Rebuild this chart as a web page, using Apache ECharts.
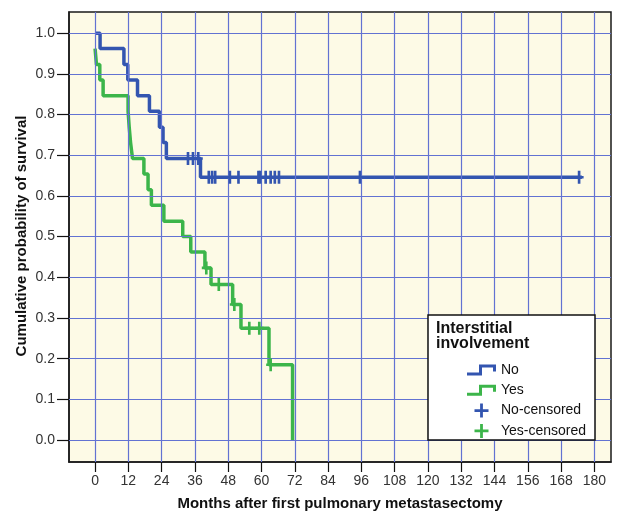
<!DOCTYPE html>
<html>
<head>
<meta charset="utf-8">
<script src="https://cdn.jsdelivr.net/npm/echarts@6/dist/echarts.min.js"></script>
<style>
html,body{margin:0;padding:0;background:#fff;}
#chart{width:622px;height:513px;}
</style>
</head>
<body>
<div id="chart"></div>
<script>
// Tick values
const xTicks = [0, 12, 24, 36, 48, 60, 72, 84, 96, 108, 120, 132, 144, 156, 168, 180];
const yTicks = [0, 0.1, 0.2, 0.3, 0.4, 0.5, 0.6, 0.7, 0.8, 0.9, 1.0];

// Group "No": step curve (time of step, survival after step)
const noTimes = [0, 1.8, 10.4, 11.8, 15.3, 19.6, 23.2, 24.5, 25.7, 38.0, 175.5];
const noSurv  = [1.0, 0.962, 0.923, 0.885, 0.846, 0.808, 0.769, 0.731, 0.692, 0.646, 0.646];
// Group "No": censored observations
const noCensT = [33.5, 35.3, 37.2, 41.0, 42.2, 43.3, 48.6, 51.7, 58.9, 59.5, 61.5, 63.3, 64.8, 66.3, 95.5, 174.5];
const noCensS = [0.692, 0.692, 0.692, 0.646, 0.646, 0.646, 0.646, 0.646, 0.646, 0.646, 0.646, 0.646, 0.646, 0.646, 0.646, 0.646];

// Group "Yes": step curve
const yesTimes = [0, 0.5, 1.7, 2.9, 11.9, 12.3, 12.8, 13.5, 17.6, 19.1, 20.3, 24.8, 31.6, 34.5, 39.6, 41.8, 49.6, 52.6, 62.7, 71.2];
const yesSurv  = [0.962, 0.923, 0.885, 0.846, 0.808, 0.769, 0.731, 0.692, 0.654, 0.615, 0.577, 0.538, 0.500, 0.462, 0.423, 0.382, 0.333, 0.275, 0.185, 0.0];
// Group "Yes": censored observations
const yesCensT = [40.1, 44.6, 50.2, 55.6, 59.2, 63.3];
const yesCensS = [0.423, 0.382, 0.333, 0.275, 0.275, 0.185];

const BLUE = '#3355b0';
const GREEN = '#3cb54a';
const GRIDC = '#6272d2';
const FONT = 'Liberation Sans, Arial, sans-serif';
const plusIcon = 'path://M4,0H6V4H10V6H6V10H4V6H0V4H4Z';
const tickIcon = 'path://M3,0H5.5V4H8.5V6H5.5V10H3V6H0V4H3Z';
const stepIcon = 'path://M0,8H12V0H29V7H26V3H15V11H0Z';

const zip = (a, b) => a.map((v, i) => [v, b[i]]);

const chart = echarts.init(document.getElementById('chart'), null, {renderer: 'canvas'});
chart.setOption({
  animation: false,
  backgroundColor: '#ffffff',
  grid: {
    left: 69, right: 11, top: 12, bottom: 51,
    outerBoundsMode: 'none', containLabel: false,
    show: true, backgroundColor: '#fdfae6',
    borderColor: '#1a1a1a', borderWidth: 1.5
  },
  xAxis: {
    type: 'value', min: -9.4, max: 186,
    axisLine: {show: true, onZero: false, lineStyle: {color: '#1a1a1a', width: 1.5}},
    splitLine: {show: false},
    axisTick: {show: true, inside: false, customValues: xTicks, length: 10, lineStyle: {color: '#111', width: 1.2}},
    axisLabel: {customValues: xTicks, fontSize: 14, color: '#333', margin: 12, fontFamily: FONT},
    name: 'Months after first pulmonary metastasectomy',
    nameLocation: 'middle', nameGap: 34,
    nameTextStyle: {fontSize: 15, fontWeight: 'bold', color: '#111', fontFamily: FONT}
  },
  yAxis: {
    type: 'value', min: -0.054, max: 1.052,
    axisLine: {show: true, onZero: false, lineStyle: {color: '#1a1a1a', width: 1.5}},
    splitLine: {show: false},
    axisTick: {show: true, inside: false, customValues: yTicks, length: 12, lineStyle: {color: '#111', width: 1.2}},
    axisLabel: {customValues: yTicks, fontSize: 14, color: '#333', margin: 14, fontFamily: FONT,
      formatter: v => Number(v).toFixed(1)}
  },
  legend: {
    orient: 'vertical', left: 462, top: 358,
    itemWidth: 29, itemHeight: 14, itemGap: 6.3,
    selectedMode: false, z: 200,
    itemStyle: {borderWidth: 0, opacity: 1},
    textStyle: {fontSize: 14, color: '#111', fontFamily: FONT},
    data: [
      {name: 'No', icon: stepIcon},
      {name: 'Yes', icon: stepIcon},
      {name: 'No-censored', icon: plusIcon},
      {name: 'Yes-censored', icon: plusIcon}
    ]
  },
  graphic: [
    {type: 'text', z: 50, x: 22, y: 236, rotation: Math.PI / 2,
     style: {text: 'Cumulative probability of survival', font: 'bold 15px ' + FONT, fill: '#111',
             align: 'center', verticalAlign: 'middle'}},
    {type: 'rect', z: 100, shape: {x: 428, y: 315, width: 167, height: 125},
     style: {fill: '#ffffff', stroke: '#111', lineWidth: 1.5}},
    {type: 'text', z: 101, left: 436, top: 321,
     style: {text: 'Interstitial\ninvolvement', font: 'bold 16px ' + FONT, fill: '#111', lineHeight: 15}}
  ],
  series: [
    {
      name: 'grid', type: 'line', data: [], silent: true, z: 1,
      markLine: {
        silent: true, symbol: ['none', 'none'], label: {show: false},
        lineStyle: {color: GRIDC, width: 1.2, type: 'solid', opacity: 1},
        emphasis: {disabled: true},
        data: [...xTicks.map(v => ({xAxis: v})), ...yTicks.map(v => ({yAxis: v}))]
      }
    },
    {
      name: 'Yes', type: 'line', step: 'end', data: zip(yesTimes, yesSurv),
      showSymbol: false, z: 3, lineStyle: {color: GREEN, width: 3.5}, itemStyle: {color: GREEN}
    },
    {
      name: 'No', type: 'line', step: 'end', data: zip(noTimes, noSurv),
      showSymbol: false, z: 4, lineStyle: {color: BLUE, width: 3.5}, itemStyle: {color: BLUE}
    },
    {
      name: 'No-censored', type: 'scatter', data: zip(noCensT, noCensS),
      symbol: tickIcon, symbolSize: [9, 13], z: 5, itemStyle: {color: BLUE, opacity: 1}
    },
    {
      name: 'Yes-censored', type: 'scatter', data: zip(yesCensT, yesCensS),
      symbol: tickIcon, symbolSize: [9, 13], z: 5, itemStyle: {color: GREEN, opacity: 1}
    }
  ]
});
</script>
</body>
</html>
